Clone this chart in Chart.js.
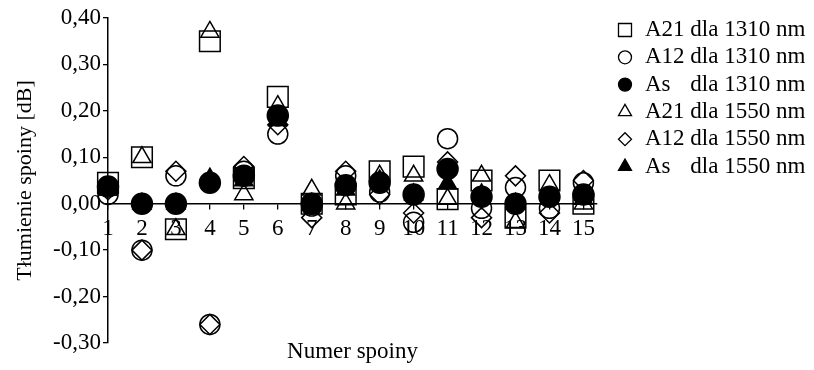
<!DOCTYPE html>
<html lang="pl">
<head>
<meta charset="UTF-8">
<title>Tłumienie spoin</title>
<script src="https://cdn.jsdelivr.net/npm/chart.js"></script>
<style>
    body { margin: 0; background: #fff; }
</style>
</head>
<body>
<canvas id="wykres" width="814" height="370"></canvas>

<script>
    // numery spoin
    const spoiny = [1, 2, 3, 4, 5, 6, 7, 8, 9, 10, 11, 12, 13, 14, 15];
    const yTicks = [-0.3, -0.2, -0.1, 0, 0.1, 0.2, 0.3, 0.4];

    // wartosci [dB]
    const a21_1310 = [0.045, 0.10, -0.055, 0.35, 0.055, 0.23, 0.00, 0.02, 0.07, 0.08, 0.01, 0.05, -0.03, 0.05, 0.00];
    const a12_1310 = [0.02, -0.10, 0.06, -0.26, 0.07, 0.15, -0.005, 0.06, 0.025, -0.04, 0.14, -0.01, 0.035, -0.01, 0.045];
    const as_1310  = [0.037, 0.00, 0.00, 0.045, 0.06, 0.19, 0.00, 0.04, 0.045, 0.02, 0.075, 0.015, 0.00, 0.015, 0.02];
    const a21_1550 = [0.03, 0.10, -0.055, 0.37, 0.02, 0.21, 0.03, 0.00, 0.06, 0.06, 0.01, 0.06, -0.04, 0.04, 0.00];
    const a12_1550 = [0.03, -0.10, 0.07, -0.26, 0.08, 0.17, -0.03, 0.07, 0.02, -0.02, 0.09, -0.03, 0.06, -0.02, 0.05];
    const as_1550  = [0.03, 0.00, 0.00, 0.054, 0.05, 0.18, 0.00, 0.03, 0.05, 0.02, 0.043, 0.02, 0.00, 0.01, 0.01];

    const etykiety = ['A21 dla 1310 nm', 'A12 dla 1310 nm', 'As dla 1310 nm',
                      'A21 dla 1550 nm', 'A12 dla 1550 nm', 'As dla 1550 nm'];

    const pusty = 'rgba(0,0,0,0)';
    function seria(i, wartosci, styl, r, wypelniony, kolejnosc, rLeg) {
        return {
            label: etykiety[i],
            data: spoiny.map((s, k) => ({ x: s, y: wartosci[k] })),
            pointStyle: styl,
            pointRadius: r,
            pointHoverRadius: r,
            pointBorderWidth: 1.5,
            borderColor: '#000',
            pointBorderColor: '#000',
            pointBackgroundColor: wypelniony ? '#000' : pusty,
            backgroundColor: wypelniony ? '#000' : pusty,
            showLine: false,
            clip: false,
            order: kolejnosc,
            legendRadius: rLeg
        };
    }

    const datasets = [
        seria(0, a21_1310, 'rect', 14.6, false, 5, 9.2),
        seria(1, a12_1310, 'circle', 10, false, 4, 6.5),
        seria(2, as_1310, 'circle', 10.5, true, 0, 6.5),
        seria(3, a21_1550, 'triangle', 10.5, false, 3, 7.5),
        seria(4, a12_1550, 'rectRot', 10, false, 2, 6.5),
        seria(5, as_1550, 'triangle', 10.5, true, 1, 7.5)
    ];

    const FONT = 'Liberation Serif';

    // legenda rysowana recznie, po prawej stronie
    const legenda = {
        id: 'legenda',
        afterDraw(chart) {
            const ctx = chart.ctx;
            ctx.save();
            ctx.font = '23px "' + FONT + '"';
            ctx.textBaseline = 'middle';
            ctx.fillStyle = '#000';
            const x0 = 625, tx = 645, y0 = 30, dy = 27.3;
            const wcięcie = ctx.measureText('A21 ').width;
            chart.data.datasets.forEach((ds, i) => {
                const y = y0 + i * dy;
                ctx.save();
                ctx.lineWidth = 1.3;
                ctx.strokeStyle = '#000';
                ctx.fillStyle = ds.pointBackgroundColor;
                Chart.helpers.drawPoint(ctx, {
                    pointStyle: ds.pointStyle,
                    radius: ds.legendRadius,
                    borderWidth: 1.3,
                    rotation: 0
                }, x0, y);
                ctx.restore();
                const tekst = ds.label;
                const sp = tekst.indexOf(' ');
                ctx.fillText(tekst.slice(0, sp), tx, y);
                ctx.fillText(tekst.slice(sp + 1), tx + wcięcie, y);
            });
            ctx.restore();
        }
    };

    Chart.defaults.font.family = FONT;
    Chart.defaults.color = '#000';

    const ctx = document.getElementById('wykres').getContext('2d');
    const wykres = new Chart(ctx, {
        type: 'scatter',
        data: { datasets: datasets },
        options: {
            responsive: false,
            animation: false,
            devicePixelRatio: 1,
            layout: { padding: { top: 18, right: 217, left: 0, bottom: 0 } },
            plugins: {
                legend: { display: false },
                tooltip: { enabled: false }
            },
            scales: {
                x: {
                    type: 'linear',
                    position: { y: 0 },
                    min: 1,
                    max: 15.4,
                    afterBuildTicks: (s) => { s.ticks = spoiny.map(v => ({ value: v })); },
                    ticks: { font: { size: 23 }, padding: 6, autoSkip: false, maxRotation: 0 },
                    grid: { drawOnChartArea: false, tickLength: 5, color: '#000', lineWidth: 1.3 },
                    border: { color: '#000', width: 1.5 }
                },
                x2: {
                    type: 'linear',
                    position: 'bottom',
                    min: 1,
                    max: 15.4,
                    ticks: { display: false },
                    grid: { display: false },
                    border: { display: false },
                    title: { display: true, text: 'Numer spoiny', font: { size: 23 }, padding: { top: 0, bottom: 4 } },
                    afterFit: (s) => { s.height = 27; }
                },
                y: {
                    min: -0.3,
                    max: 0.4,
                    afterBuildTicks: (s) => { s.ticks = yTicks.map(v => ({ value: v })); },
                    ticks: {
                        font: { size: 23 },
                        padding: 2,
                        callback: (v) => (Math.abs(v) < 1e-9 ? 0 : v).toFixed(2).replace('.', ',')
                    },
                    grid: { drawOnChartArea: false, tickLength: 5, color: '#000', lineWidth: 1.3 },
                    border: { color: '#000', width: 1.5 },
                    title: { display: true, text: 'Tłumienie spoiny [dB]', font: { size: 22 }, padding: { top: 12, bottom: 0 } },
                    afterFit: (s) => { s.width = 108; }
                }
            }
        },
        plugins: [legenda]
    });
</script>
</body>
</html>
